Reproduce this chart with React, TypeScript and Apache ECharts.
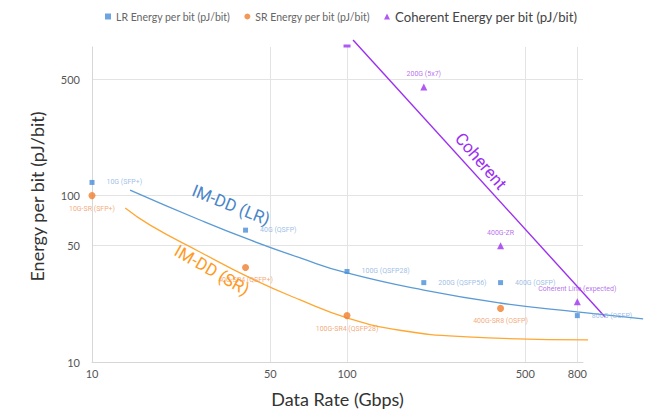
import React, { useEffect, useRef } from "react";
import * as echarts from "echarts";

// ---- data (raw values) ----
const xTickValues = [10, 50, 100, 500, 800];
const yTickValues = [10, 50, 100, 500];

const lrRates = [10, 40, 100, 200, 400, 800];
const lrEnergy = [120, 62, 35, 30, 30, 19];
const lrLabels = ["10G (SFP+)", "40G (QSFP)", "100G (QSFP28)", "200G (QSFP56)", "400G (OSFP)", "800G (OSFP)"];

const srRates = [10, 40, 100, 400];
const srEnergy = [100, 37, 19, 21];
const srLabels = ["10G-SR (SFP+)", "40G-SR4 (QSFP+)", "100G-SR4 (QSFP28)", "400G-SR8 (OSFP)"];

const cohRates = [200, 400, 800];
const cohEnergy = [450, 50, 23];
const cohLabels = ["200G (5x7)", "400G-ZR", "Coherent Line (expected)"];

// off-scale coherent point (clipped at the top of the chart)
const cohOffRates = [100];
const cohOffEnergy = [782];

// trend lines
const lrTrendRates = [14.1, 26.5, 41.7, 65.5, 100, 200, 398, 798, 1449];
const lrTrendEnergy = [110, 73, 55.5, 43.4, 35.3, 27.9, 23.4, 20.7, 18.8];
const srTrendRates = [13.5, 16.9, 26.5, 41.7, 65.5, 100, 161, 296, 881];
const srTrendEnergy = [86, 68, 47.1, 33.0, 24.4, 19.1, 16.1, 14.7, 14.1];
const cohTrendRates = [105.6, 1028];
const cohTrendEnergy = [861, 19.3];

const X_MIN = 10;
const X_MAX = 842;
const Y_MIN = 10;
const Y_MAX = 782;

// layout
const W = 646;
const H = 413;
const G_LEFT = 92;
const G_RIGHT = 63;
const G_TOP = 47;
const G_BOTTOM = 48;

const L = (v: number) => Math.log10(v);
const fmt = (v: number) => String(Math.round(Math.pow(10, v)));

const C_BLUE = "#4a8fd8";
const C_BLUE_LINE = "#5b9bd5";
const C_BLUE_TXT = "#86aee0";
const C_ORANGE = "#f07e2c";
const C_ORANGE_LINE = "#ffa733";
const C_ORANGE_TXT = "#ef9358";
const C_PURPLE = "#9c2ff0";
const C_PURPLE_TXT = "#a64ce6";

export default function App() {
  const ref = useRef<HTMLDivElement>(null);

  useEffect(() => {
    document.body.style.margin = "0";
    const chart = echarts.init(ref.current!, null, { renderer: "svg" });

    const pts = (xs: number[], ys: number[], names?: string[]) =>
      xs.map((x, i) => ({ value: [L(x), L(ys[i])], name: names ? names[i] : "" }));

    // second (overlay) grid with the same scale, extended to the chart edges,
    // so the trend lines can run past the plot area like in the reference
    const plotW = W - G_LEFT - G_RIGHT;
    const plotH = H - G_TOP - G_BOTTOM;
    const pxPerDecX = plotW / (L(X_MAX) - L(X_MIN));
    const pxPerDecY = plotH / (L(Y_MAX) - L(Y_MIN));
    const x2Max = L(X_MIN) + (W - G_LEFT) / pxPerDecX;
    const y2Max = L(Y_MIN) + (H - G_BOTTOM) / pxPerDecY;

    const option: any = {
      animation: false,
      backgroundColor: "#ffffff",
      legend: {
        top: 5,
        left: 100,
        itemGap: 14,
        itemWidth: 6,
        itemHeight: 6,
        textStyle: { fontFamily: "Lato", color: "#666", fontSize: 10.5 },
        data: [
          { name: "LR Energy per bit (pJ/bit)", icon: "rect", itemStyle: { color: C_BLUE }, textStyle: { fontSize: 10.5 } },
          { name: "SR Energy per bit (pJ/bit)", icon: "circle", itemStyle: { color: C_ORANGE }, textStyle: { fontSize: 10.5 } },
          { name: "Coherent Energy per bit (pJ/bit)", icon: "triangle", itemStyle: { color: C_PURPLE }, textStyle: { fontSize: 13.2, color: "#444" } },
        ],
      },
      grid: [
        { left: G_LEFT, right: G_RIGHT, top: G_TOP, bottom: G_BOTTOM },
        { left: G_LEFT, right: 0, top: 0, bottom: G_BOTTOM },
      ],
      xAxis: [
        {
          type: "value",
          gridIndex: 0,
          min: L(X_MIN),
          max: L(X_MAX),
          name: "Data Rate (Gbps)",
          nameLocation: "middle",
          nameGap: 28,
          nameTextStyle: { fontFamily: "Lato", fontSize: 18, color: "#333" },
          axisLine: { show: true, lineStyle: { color: "#d6d6d6" } },
          axisTick: { show: false, customValues: xTickValues.map(L) },
          axisLabel: {
            customValues: xTickValues.map(L),
            formatter: fmt,
            fontFamily: "Lato",
            fontSize: 11,
            color: "#555",
            margin: 6,
          },
          splitLine: { show: true, lineStyle: { color: "#e3e3e3" } },
        },
        {
          type: "value",
          gridIndex: 1,
          min: L(X_MIN),
          max: x2Max,
          show: false,
          splitLine: { show: false },
        },
      ],
      yAxis: [
        {
          type: "value",
          gridIndex: 0,
          min: L(Y_MIN),
          max: L(Y_MAX),
          name: "Energy per bit (pJ/bit)",
          nameLocation: "middle",
          nameGap: 46,
          nameTextStyle: { fontFamily: "Lato", fontSize: 18, color: "#333", padding: [0, 0, 0, 16] },
          axisLine: { show: true, lineStyle: { color: "#d6d6d6" } },
          axisTick: { show: false, customValues: yTickValues.map(L) },
          axisLabel: {
            customValues: yTickValues.map(L),
            formatter: fmt,
            fontFamily: "Lato",
            fontSize: 11,
            color: "#555",
            margin: 12,
          },
          splitLine: { show: true, lineStyle: { color: "#e3e3e3" } },
        },
        {
          type: "value",
          gridIndex: 1,
          min: L(Y_MIN),
          max: y2Max,
          show: false,
          splitLine: { show: false },
        },
      ],
      series: [
        {
          type: "line",
          name: "LR trend",
          xAxisIndex: 1,
          yAxisIndex: 1,
          data: pts(lrTrendRates, lrTrendEnergy).map((d) => d.value),
          smooth: true,
          symbol: "none",
          lineStyle: { color: C_BLUE_LINE, width: 1.3 },
          silent: true,
          z: 1,
        },
        {
          type: "line",
          name: "SR trend",
          xAxisIndex: 1,
          yAxisIndex: 1,
          data: pts(srTrendRates, srTrendEnergy).map((d) => d.value),
          smooth: true,
          symbol: "none",
          lineStyle: { color: C_ORANGE_LINE, width: 1.3 },
          silent: true,
          z: 1,
        },
        {
          type: "line",
          name: "Coherent trend",
          xAxisIndex: 1,
          yAxisIndex: 1,
          data: pts(cohTrendRates, cohTrendEnergy).map((d) => d.value),
          symbol: "none",
          lineStyle: { color: C_PURPLE, width: 1.4 },
          silent: true,
          z: 1,
        },
        {
          type: "scatter",
          name: "LR Energy per bit (pJ/bit)",
          data: pts(lrRates, lrEnergy, lrLabels),
          symbol: "rect",
          symbolSize: 5,
          itemStyle: { color: C_BLUE },
          label: {
            show: true,
            position: "right",
            distance: 12,
            formatter: "{b}",
            fontFamily: "Roboto",
            fontSize: 7,
            color: C_BLUE_TXT,
          },
          z: 3,
        },
        {
          type: "scatter",
          name: "SR Energy per bit (pJ/bit)",
          data: pts(srRates, srEnergy, srLabels),
          symbol: "circle",
          symbolSize: 7,
          itemStyle: { color: C_ORANGE },
          label: {
            show: true,
            position: "bottom",
            distance: 6,
            formatter: "{b}",
            fontFamily: "Roboto",
            fontSize: 7,
            color: C_ORANGE_TXT,
          },
          z: 3,
        },
        {
          type: "scatter",
          name: "Coherent Energy per bit (pJ/bit)",
          data: pts(cohRates, cohEnergy, cohLabels),
          symbol: "triangle",
          symbolSize: 7,
          itemStyle: { color: C_PURPLE },
          label: {
            show: true,
            position: "top",
            distance: 6,
            formatter: "{b}",
            fontFamily: "Roboto",
            fontSize: 7,
            color: C_PURPLE_TXT,
          },
          z: 3,
        },
        {
          type: "scatter",
          name: "Coherent off-scale",
          data: pts(cohOffRates, cohOffEnergy),
          symbol: "rect",
          symbolSize: [7, 3],
          symbolOffset: [0, -1],
          itemStyle: { color: C_PURPLE },
          z: 3,
        },
      ],
      graphic: [
        {
          type: "text",
          x: 231,
          y: 205,
          rotation: -0.38,
          style: {
            text: "IM-DD (LR)",
            fill: "#4a86c8",
            font: "17px Roboto",
            align: "center",
            verticalAlign: "middle",
          },
          z: 10,
        },
        {
          type: "text",
          x: 212,
          y: 270,
          rotation: -0.52,
          style: {
            text: "IM-DD (SR)",
            fill: "#ff9a1f",
            font: "17px Roboto",
            align: "center",
            verticalAlign: "middle",
          },
          z: 10,
        },
        {
          type: "text",
          x: 481,
          y: 161,
          rotation: -0.86,
          style: {
            text: "Coherent",
            fill: C_PURPLE,
            font: "17px Roboto",
            align: "center",
            verticalAlign: "middle",
          },
          z: 10,
        },
      ],
    };

    chart.setOption(option);
    return () => chart.dispose();
  }, []);

  return <div ref={ref} style={{ width: W, height: H }} />;
}
